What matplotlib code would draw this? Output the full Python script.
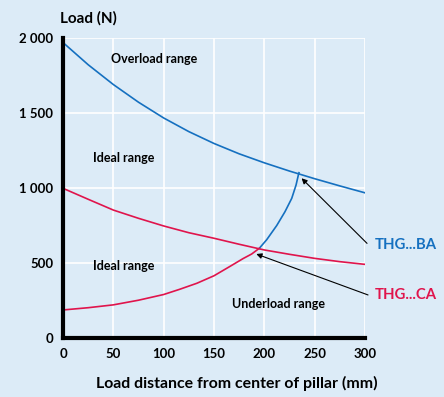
import matplotlib
matplotlib.use("Agg")
import matplotlib.pyplot as plt

# -------------------------------------------
# Data
# -------------------------------------------
dist = [0, 25, 50, 75, 100, 125, 150, 175, 200, 225, 250, 275, 300]

# upper limit THG...BA (blue)
ba_upper = [1970, 1822, 1690, 1572, 1467, 1376, 1297, 1228, 1168, 1113, 1062, 1014, 968]
# upper limit THG...CA (red)
ca_upper = [998, 925, 853, 798, 747, 702, 665, 625, 587, 558, 531, 509, 491]

# lower (underload) limit, shared path, red up to the crossing
low_dist_red = [0, 25, 50, 75, 100, 116, 133, 150, 166, 179, 187.4, 195]
low_load_red = [187, 202, 221, 252, 290, 325, 365, 415, 478, 530, 560, 598]
# continues in blue up to the THG...BA upper limit
low_dist_blue = [195, 202.3, 212.3, 220.5, 227.2, 231.5, 233.8, 234.4]
low_load_blue = [598, 655, 750, 842, 931, 1020, 1087, 1102]

x_ticks = [0, 50, 100, 150, 200, 250, 300]
y_ticks = [0, 500, 1000, 1500, 2000]
y_tick_labels = ["0", "500", "1 000", "1 500", "2 000"]

BG = "#dcebf7"
BLUE = "#1570c0"
RED = "#e0144c"

plt.rcParams["font.family"] = ["Lato", "DejaVu Sans"]
plt.rcParams["font.weight"] = "bold"

fig = plt.figure(figsize=(4.44, 3.97), dpi=100, facecolor=BG)
ax = fig.add_axes([0.1419, 0.1486, 0.6802, 0.7556], facecolor=BG)

ax.plot(dist, ba_upper, color=BLUE, lw=1.2, zorder=3)
ax.plot(dist, ca_upper, color=RED, lw=1.2, zorder=3)
ax.plot(low_dist_blue, low_load_blue, color=BLUE, lw=1.2, zorder=3)
ax.plot(low_dist_red, low_load_red, color=RED, lw=1.2, zorder=4)

ax.set_xlim(0, 300)
ax.set_ylim(0, 2000)
ax.set_xticks(x_ticks)
ax.set_yticks(y_ticks)
ax.set_yticklabels(y_tick_labels)
ax.tick_params(length=0, labelsize=9.5, pad=7)
for lab in ax.get_xticklabels() + ax.get_yticklabels():
    lab.set_fontweight("bold")

ax.grid(True, color="white", lw=1.2, zorder=0)
ax.set_axisbelow(True)

for s in ["top", "right"]:
    ax.spines[s].set_visible(False)
for s in ["left", "bottom"]:
    ax.spines[s].set_linewidth(3)
    ax.spines[s].set_color("black")
    ax.spines[s].set_zorder(5)

ax.set_xlabel("Load distance from center of pillar (mm)", fontsize=11.4,
              fontweight="bold", labelpad=12)
ax.xaxis.label.set_x(0.576)
fig.text(0.135, 0.955, "Load (N)", fontsize=11, fontweight="bold",
         ha="left", va="center")

# range labels
ax.text(91, 1860, "Overload range", fontsize=9, ha="center", va="center")
ax.text(60, 1198, "Ideal range", fontsize=9, ha="center", va="center")
ax.text(60, 480, "Ideal range", fontsize=9, ha="center", va="center")
ax.text(214, 225, "Underload range", fontsize=9, ha="center", va="center")

# series labels with arrows
ax.annotate("", xy=(237, 1065), xytext=(302, 631), annotation_clip=False,
            arrowprops=dict(arrowstyle="-|>", color="black", lw=0.8,
                            mutation_scale=8, shrinkA=0, shrinkB=0))
ax.annotate("", xy=(192, 560), xytext=(303, 287), annotation_clip=False,
            arrowprops=dict(arrowstyle="-|>", color="black", lw=0.8,
                            mutation_scale=8, shrinkA=0, shrinkB=0))
ax.text(310, 617, "THG...BA", color=BLUE, fontsize=10.7, ha="left",
        va="center", clip_on=False)
ax.text(310, 284, "THG...CA", color=RED, fontsize=10.7, ha="left",
        va="center", clip_on=False)

fig.savefig("out.png", dpi=100, facecolor=BG)
